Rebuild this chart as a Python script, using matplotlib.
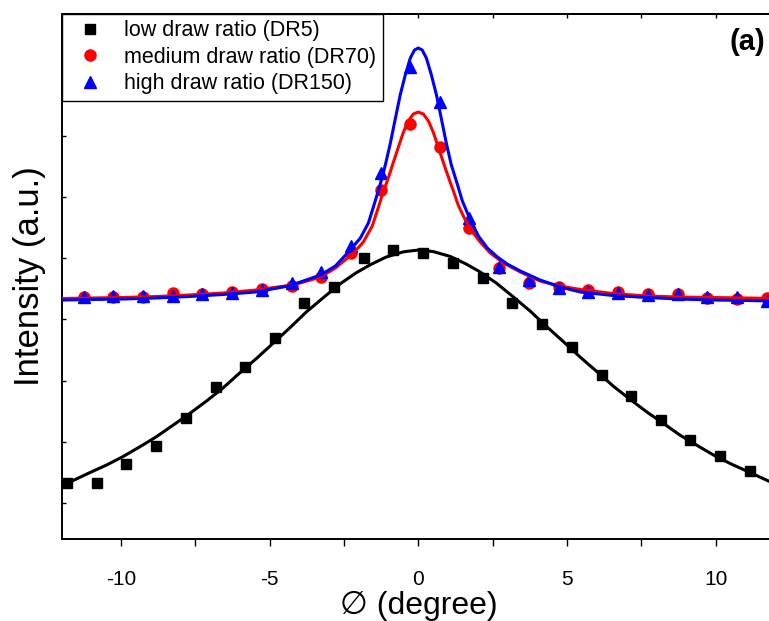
import matplotlib
matplotlib.use("Agg")
import matplotlib.pyplot as plt
from matplotlib.ticker import MultipleLocator, NullFormatter

plt.rcParams['font.family'] = ['Liberation Sans', 'DejaVu Sans']
plt.rcParams['axes.unicode_minus'] = False

# ---- measured data points ----
x_low = [-11.82, -10.82, -9.82, -8.82, -7.82, -6.82, -5.82, -4.82, -3.85, -2.82, -1.82, -0.84,
         0.17, 1.18, 2.16, 3.16, 4.17, 5.18, 6.18, 7.16, 8.17, 9.15, 10.16, 11.16]
y_low = [1.327, 1.327, 1.637, 1.931, 2.389, 2.895, 3.222, 3.696, 4.268, 4.529, 5.003, 5.134,
         5.085, 4.922, 4.676, 4.268, 3.925, 3.549, 3.092, 2.748, 2.356, 2.029, 1.768, 1.523]

x_med = [-11.26, -10.26, -9.26, -8.26, -7.26, -6.26, -5.26, -4.26, -3.26, -2.26, -1.26, -0.27,
         0.74, 1.72, 2.72, 3.72, 4.72, 5.72, 6.72, 7.72, 8.72, 9.72, 10.72, 11.72]
y_med = [4.366, 4.366, 4.366, 4.431, 4.415, 4.448, 4.497, 4.546, 4.693, 5.085, 6.114, 7.193,
         6.817, 5.493, 4.840, 4.595, 4.529, 4.480, 4.448, 4.415, 4.415, 4.350, 4.333, 4.350]

x_high = x_med
y_high = [4.366, 4.382, 4.382, 4.382, 4.415, 4.431, 4.480, 4.595, 4.775, 5.199, 6.392, 8.124,
          7.552, 5.657, 4.856, 4.644, 4.513, 4.448, 4.431, 4.399, 4.415, 4.366, 4.366, 4.301]

# ---- fitted curves ----
xf_low = [-12.0, -11.08, -10.49, -9.93, -9.38, -8.82, -8.27, -7.71, -7.13, -6.57, -6.02, -5.46,
          -4.91, -4.35, -3.76, -3.16, -2.62, -2.08, -1.61, -1.08, -0.50, 0.0,
          0.50, 1.08, 1.61, 2.08, 2.62, 3.16, 3.76, 4.35, 4.91, 5.46, 6.02, 6.57, 7.13,
          7.71, 8.27, 8.82, 9.38, 9.93, 10.49, 11.08, 12.0]
yf_low = [1.278, 1.490, 1.620, 1.760, 1.915, 2.080, 2.265, 2.455, 2.665, 2.880, 3.120, 3.355,
          3.600, 3.850, 4.125, 4.370, 4.585, 4.765, 4.895, 5.020, 5.105, 5.134,
          5.109, 5.028, 4.905, 4.775, 4.595, 4.382, 4.137, 3.868, 3.623, 3.377, 3.141, 2.904, 2.691,
          2.479, 2.291, 2.103, 1.940, 1.784, 1.645, 1.515, 1.310]

xf_med = [-11.97, -11.09, -9.95, -8.84, -7.73, -6.59, -5.48, -4.37, -3.97, -3.29, -2.79, -2.18,
          -1.85, -1.55, -1.34, -1.18, -1.01, -0.87, -0.67, -0.50, -0.34, -0.17, 0.0,
          0.17, 0.34, 0.50, 0.67, 0.87, 1.01, 1.18, 1.34, 1.58, 1.82, 2.08, 2.42, 2.86,
          3.43, 4.10, 4.77, 5.45, 6.55, 7.70, 8.81, 9.92, 11.06, 12.00]
yf_med = [4.342, 4.350, 4.358, 4.374, 4.399, 4.431, 4.480, 4.554, 4.595, 4.693, 4.840, 5.085,
          5.265, 5.526, 5.837, 6.082, 6.310, 6.523, 6.817, 7.062, 7.242, 7.356, 7.389,
          7.356, 7.242, 7.062, 6.817, 6.523, 6.327, 6.098, 5.869, 5.624, 5.428, 5.265, 5.085, 4.922,
          4.775, 4.627, 4.546, 4.489, 4.423, 4.382, 4.366, 4.358, 4.350, 4.342]

xf_high = [-11.97, -11.09, -9.95, -8.84, -7.73, -6.59, -5.48, -4.37, -3.97, -3.29, -2.79, -2.29,
           -1.95, -1.68, -1.45, -1.28, -1.11, -0.94, -0.77, -0.61, -0.44, -0.27, -0.13, 0.0,
           0.13, 0.27, 0.44, 0.61, 0.77, 0.94, 1.11, 1.31, 1.48, 1.75, 2.02, 2.32, 2.66, 2.99,
           3.43, 4.10, 4.77, 5.45, 6.55, 7.70, 8.81, 9.92, 11.06, 12.00]
yf_high = [4.317, 4.325, 4.333, 4.350, 4.374, 4.407, 4.448, 4.546, 4.611, 4.725, 4.873, 5.134,
           5.330, 5.575, 5.935, 6.212, 6.523, 6.882, 7.291, 7.667, 7.993, 8.271, 8.402, 8.435,
           8.402, 8.271, 7.993, 7.667, 7.291, 6.882, 6.523, 6.212, 5.935, 5.624, 5.363, 5.167, 5.020, 4.905,
           4.791, 4.644, 4.529, 4.448, 4.391, 4.358, 4.333, 4.317, 4.309, 4.301]

labels = ["low draw ratio (DR5)", "medium draw ratio (DR70)", "high draw ratio (DR150)"]

fig = plt.figure(figsize=(7.69, 6.21), dpi=100)
ax = fig.add_axes([0.080, 0.132, 0.928, 0.8454])

lw = 2.2
ax.plot(x_low, y_low, 's', color='black', ms=7.5, label=labels[0], zorder=3)
ax.plot(xf_low, yf_low, '-', color='black', lw=lw, zorder=4)
ax.plot(x_med, y_med, 'o', color='#ff0000', ms=8, label=labels[1], zorder=3)
ax.plot(x_high, y_high, '^', color='#0000ff', ms=8.5, label=labels[2], zorder=3)
ax.plot(xf_med, yf_med, '-', color='#ff0000', lw=lw, zorder=4)
ax.plot(xf_high, yf_high, '-', color='#0000ff', lw=lw, zorder=4)

ax.set_xlim(-12, 12)
ax.set_ylim(0.412, 8.99)
ax.xaxis.set_major_locator(MultipleLocator(5))
ax.xaxis.set_minor_locator(MultipleLocator(2.5))
ax.yaxis.set_major_locator(MultipleLocator(1))
ax.yaxis.set_major_formatter(NullFormatter())

for s in ax.spines.values():
    s.set_linewidth(1.4)

ax.tick_params(axis='x', which='both', direction='out', length=5, width=1.0,
               labelsize=15, pad=17, top=False)
ax.tick_params(axis='y', which='both', direction='in', length=3, width=1.0)

sec = ax.secondary_xaxis('top')
sec.xaxis.set_major_locator(MultipleLocator(5))
sec.xaxis.set_minor_locator(MultipleLocator(2.5))
sec.tick_params(which='both', direction='in', length=3, width=1.0, labeltop=False)
sec.spines['top'].set_linewidth(1.4)

ax.set_xlabel("\u2205 (degree)", fontsize=23, labelpad=2)
ax.set_ylabel("Intensity (a.u.)", fontsize=25)
ax.yaxis.set_label_coords(-0.022, 0.5)

fig.text(0.995, 0.955, "(a)", ha='right', va='top', fontsize=21, fontweight='bold')

leg = ax.legend(loc='upper left', bbox_to_anchor=(0.0, 1.0), fontsize=15.5,
                frameon=True, fancybox=False, edgecolor='black', framealpha=1,
                borderaxespad=0, handletextpad=0.6, borderpad=0.3, labelspacing=0.25,
                handlelength=2.0)
leg.get_frame().set_linewidth(1.0)

fig.savefig("out.png", dpi=100)
